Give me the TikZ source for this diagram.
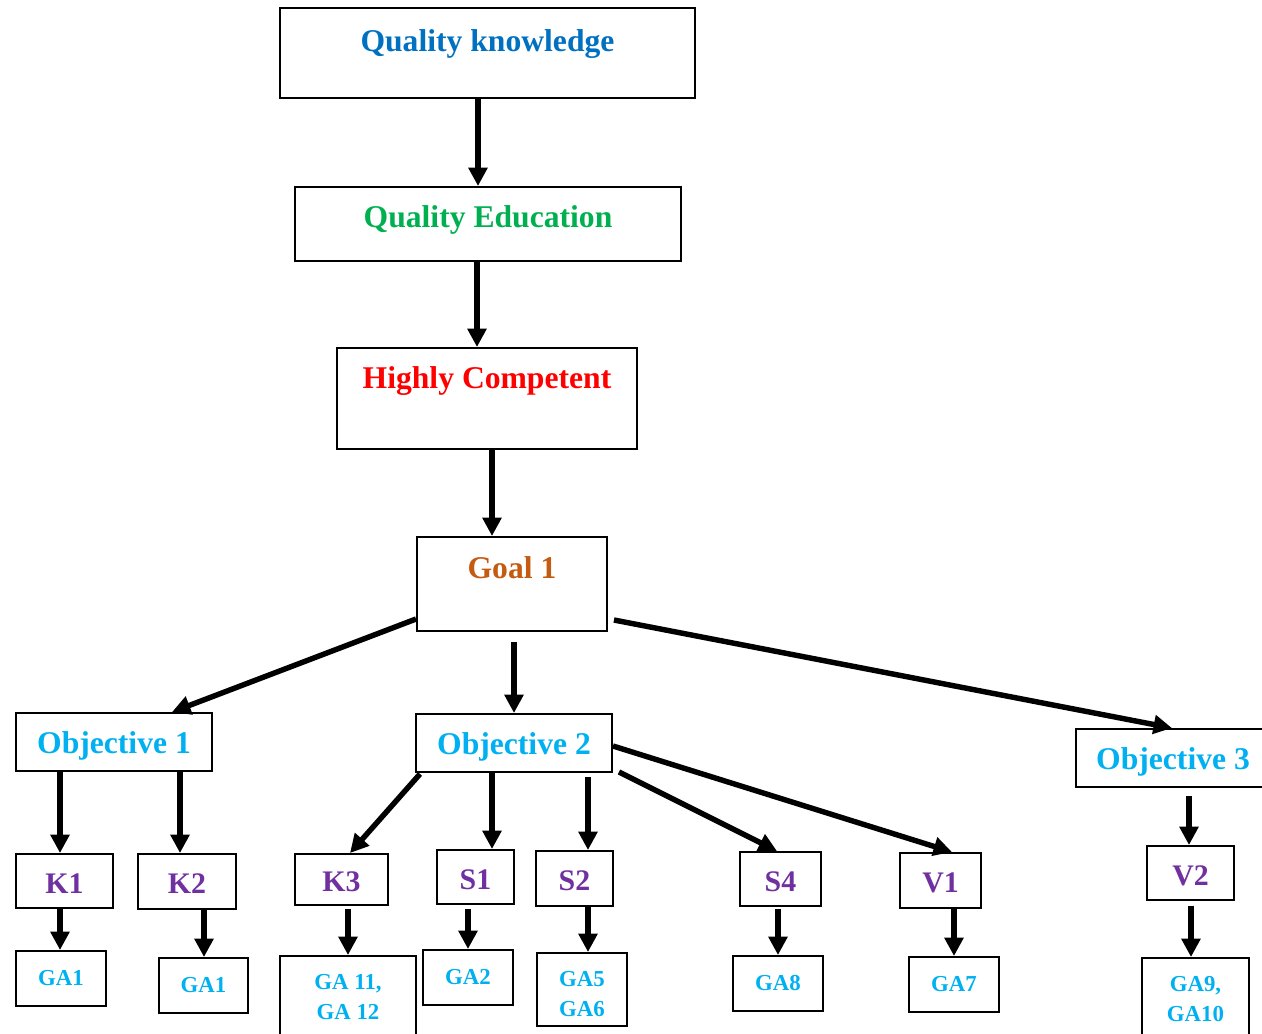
\documentclass[tikz,border=0pt]{standalone}
\usepackage{fontspec}
\setmainfont{Liberation Serif}
\usetikzlibrary{arrows.meta,calc}
\definecolor{cqk}{HTML}{0070C0}
\definecolor{cqe}{HTML}{00B050}
\definecolor{chc}{HTML}{FF0000}
\definecolor{cgoal}{HTML}{C55A11}
\definecolor{ccyan}{HTML}{00B0F0}
\definecolor{cpurp}{HTML}{7030A0}
\begin{document}
\begin{tikzpicture}[x=0.02cm,y=-0.02cm,
  box/.style={draw=black,line width=1.1pt,rectangle,inner sep=0pt,font=\bfseries},
  sz/.style 2 args={minimum width=#1*0.02cm,minimum height=#2*0.02cm},
  big/.style={font=\fontsize{18}{21}\selectfont\bfseries},
  obj/.style={big,text=ccyan,text height=14.5pt,text depth=1.7pt},
  mid/.style={font=\fontsize{17}{20}\selectfont\bfseries,text=cpurp,text height=15pt,text depth=1pt},
  small/.style={font=\fontsize{13}{17}\selectfont\bfseries,text=ccyan,align=center},
  arr/.style={line width=3.1pt,-{Triangle[length=10.5pt,width=10.5pt]}}
]
\useasboundingbox (0,0) rectangle (1262,1034);
% top chain
\node[box,sz={415}{90}] (qk) at (487.5,53) {};
\node[text=cqk,big] (qkt) at (487.5,44) {Quality knowledge};
\node[box,sz={386}{74}] (qe) at (488,224) {};
\node[text=cqe,big] (qet) at (488,220) {Quality Education};
\node[box,sz={300}{101}] (hc) at (487,398.5) {};
\node[text=chc,big] (hct) at (487,381) {Highly Competent};
\node[box,sz={190}{94}] (g1) at (512,584) {};
\node[text=cgoal,big] (g1t) at (512,568) {Goal 1};
% objectives
\node[box,sz={196}{58},obj] (o1) at (114,742) {Objective 1};
\node[box,sz={196}{58},obj] (o2) at (514,743) {Objective 2};
\node[box,sz={194}{58},obj] (o3) at (1173,758) {Objective 3};
% K S V
\node[box,sz={97}{54},mid] (k1) at (64.5,881) {K1};
\node[box,sz={98}{55},mid] (k2) at (187,881.5) {K2};
\node[box,sz={93}{51},mid] (k3) at (341.5,879.5) {K3};
\node[box,sz={77}{54},mid] (s1) at (475.5,877) {S1};
\node[box,sz={77}{55},mid] (s2) at (574.5,878.5) {S2};
\node[box,sz={81}{54},mid] (s4) at (780.5,879) {S4};
\node[box,sz={81}{55},mid] (v1) at (940.5,880.5) {V1};
\node[box,sz={87}{54},mid] (v2) at (1190.5,873) {V2};
% GA
\node[box,sz={90}{55},small] (ga1a) at (61,978.5) {GA1};
\node[box,sz={89}{55},small] (ga1b) at (203.5,985.5) {GA1};
\node[box,sz={136}{90}] (ga11) at (348,1001) {};
\node[small] (ga11t) at (348,997) {GA 11,\\GA 12};
\node[box,sz={90}{55},small] (ga2) at (468,977.5) {GA2};
\node[box,sz={90}{73}] (ga5) at (582,989.5) {};
\node[small] (ga5t) at (582,994) {GA5\\GA6};
\node[box,sz={90}{55},small] (ga8) at (778,983.5) {GA8};
\node[box,sz={90}{55},small] (ga7) at (954,984.5) {GA7};
\node[box,sz={107}{90}] (ga9) at (1195.5,1003) {};
\node[small] (ga9t) at (1195.5,999) {GA9,\\GA10};
% arrows
\draw[arr] (478,0 |- qk.south) -- (478,0 |- qe.north);
\draw[arr] (477,0 |- qe.south) -- (477,0 |- hc.north);
\draw[arr] (492,0 |- hc.south) -- (492,0 |- g1.north);
\draw[arr] (g1.west |- 0,619) -- (172,0 |- o1.north);
\draw[arr] ($(514,0 |- g1.south)+(0,10)$) -- (514,0 |- o2.north);
\draw[arr] ($(g1.east |- 0,620)+(6,0)$) -- (1172,0 |- o3.north);
\draw[arr] (60,0 |- o1.south) -- (60,0 |- k1.north);
\draw[arr] (180,0 |- o1.south) -- (180,0 |- k2.north);
\draw[arr] ($(420,0 |- o2.south)+(0,1)$) -- (350,0 |- k3.north);
\draw[arr] (492,0 |- o2.south) -- (492,0 |- s1.north);
\draw[arr] ($(588,0 |- o2.south)+(0,4)$) -- (588,0 |- s2.north);
\draw[arr] ($(o2.east |- 0,772)+(6,0)$) -- (777,0 |- s4.north);
\draw[arr] (o2.east |- 0,746) -- (952,0 |- v1.north);
\draw[arr] ($(1189,0 |- o3.south)+(0,8)$) -- (1189,0 |- v2.north);
\draw[arr] (60,0 |- k1.south) -- (60,0 |- ga1a.north);
\draw[arr] (204,0 |- k2.south) -- (204,0 |- ga1b.north);
\draw[arr] ($(348,0 |- k3.south)+(0,3)$) -- (348,0 |- ga11.north);
\draw[arr] ($(468,0 |- s1.south)+(0,4)$) -- (468,0 |- ga2.north);
\draw[arr] (588,0 |- s2.south) -- (588,0 |- ga5.north);
\draw[arr] ($(778,0 |- s4.south)+(0,2)$) -- (778,0 |- ga8.north);
\draw[arr] (954,0 |- v1.south) -- (954,0 |- ga7.north);
\draw[arr] ($(1191,0 |- v2.south)+(0,5)$) -- (1191,0 |- ga9.north);
\end{tikzpicture}
\end{document}
